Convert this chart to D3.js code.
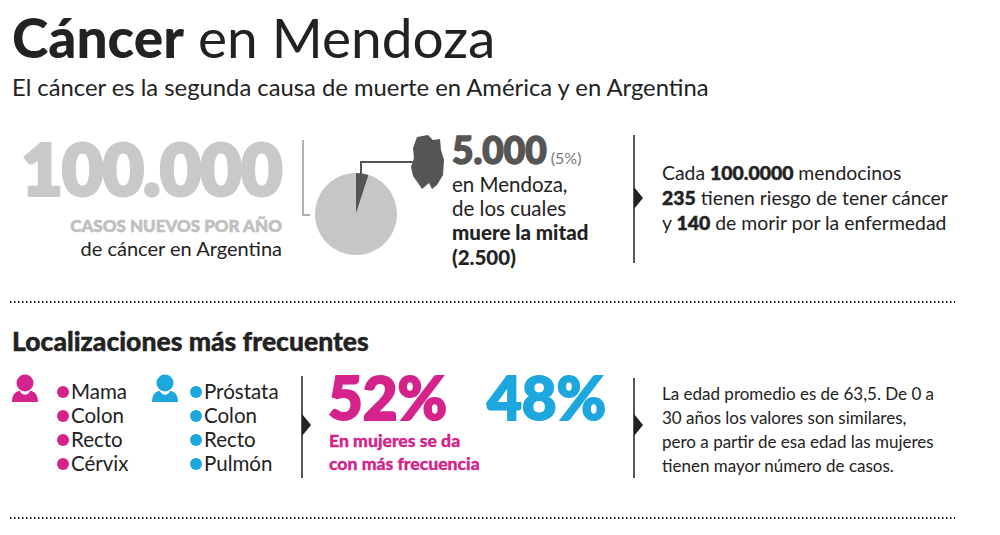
<!DOCTYPE html>
<html><head><meta charset="utf-8">
<script src="https://cdn.jsdelivr.net/npm/d3@7"></script>
<style>body{margin:0;background:#fff}text{font-family:Lato,"Open Sans",sans-serif}</style>
</head><body>
<svg id="c" width="1000" height="535"></svg>
<script>
// data
var pieShares = [5, 95];           // % Mendoza vs resto del país
var mujeres = ["Mama", "Colon", "Recto", "Cérvix"];
var hombres = ["Próstata", "Colon", "Recto", "Pulmón"];
var porcentajes = [52, 48];

var magenta = "#d4238a", cyan = "#1ea7df", ink = "#222";
var svg = d3.select("#c");

function txt(x, y, parts, size, anchor) {
  var t = svg.append("text").attr("x", x).attr("y", y).attr("font-size", size)
    .attr("fill", ink).attr("text-anchor", anchor || "start");
  parts.forEach(function(p) {
    if (typeof p === "string") p = {t: p};
    t.append("tspan").text(p.t).attr("font-weight", p.b ? 900 : 400)
      .attr("fill", p.c || ink).attr("font-size", p.s || null)
      .attr("stroke", p.b && p.h ? (p.c || ink) : null).attr("stroke-width", p.h || null);
  });
  return t;
}

// header
txt(12, 58, [{t: "Cáncer", b: 1}, " en Mendoza"], 55);
txt(12, 96, ["El cáncer es la segunda causa de muerte en América y en Argentina"], 23.8);

// block 1
txt(282, 195, [{t: "100.000", b: 1, c: "#c9c9c9", h: 4}], 70, "end");
txt(282, 232, [{t: "CASOS NUEVOS POR AÑO", b: 1, c: "#c0c0c0", h: 0.6}], 17, "end");
txt(282, 256, ["de cáncer en Argentina"], 20, "end");

svg.append("path").attr("d", "M303,140V215H310").attr("fill", "none").attr("stroke", "#999").attr("stroke-width", 1.5);

var pie = d3.pie().sort(null)(pieShares);
var arc = d3.arc().innerRadius(0).outerRadius(41);
svg.append("g").attr("transform", "translate(356,214)").selectAll("path").data(pie).enter()
  .append("path").attr("d", arc).attr("fill", function(d, i) { return i ? "#c6c6c6" : "#555"; });

svg.append("path").attr("d", "M361,174V162H414").attr("fill", "none").attr("stroke", "#555").attr("stroke-width", 2);
// Mendoza outline (rough)
svg.append("path").attr("fill", "#555")
  .attr("d", "M417,137L428,135L433,140L440,139L441,150L444,160L443,175L437,185L432,189L429,183L422,189L418,183L413,176L411,167L414,158L413,148Z");

txt(452, 164, [{t: "5.000", b: 1, c: "#555", s: 37, h: 1.5}, {t: "  (5%)", c: "#777", s: 16}], 37);
txt(452, 192, ["en Mendoza,"], 20.5);
txt(452, 216, ["de los cuales"], 20.5);
txt(452, 240, [{t: "muere la mitad", b: 1}], 20.5);
txt(452, 265, [{t: "(2.500)", b: 1}], 20.5);

function divider(x, y1, y2, ay) {
  svg.append("line").attr("x1", x).attr("x2", x).attr("y1", y1).attr("y2", y2).attr("stroke", ink).attr("stroke-width", 1.5);
  svg.append("path").attr("d", "M" + x + "," + (ay - 11) + "L" + (x + 9) + "," + ay + "L" + x + "," + (ay + 11) + "Z").attr("fill", ink);
}
divider(634, 135, 263, 198);
txt(662, 180, ["Cada ", {t: "100.0000", b: 1, h: 0.5}, " mendocinos"], 19.4);
txt(662, 205, [{t: "235", b: 1, h: 0.5}, " tienen riesgo de tener cáncer"], 19.4);
txt(662, 230, ["y ", {t: "140", b: 1, h: 0.5}, " de morir por la enfermedad"], 19.4);

function dots(y) {
  svg.append("line").attr("x1", 10).attr("x2", 955).attr("y1", y).attr("y2", y)
    .attr("stroke", ink).attr("stroke-width", 2).attr("stroke-dasharray", "1.5,2.5");
}
dots(302); dots(518);

txt(12, 351, [{t: "Localizaciones más frecuentes", b: 1, h: 0.4}], 26.5);

function person(x, y, c) {
  var g = svg.append("g").attr("transform", "translate(" + x + "," + y + ")").attr("fill", c);
  g.append("circle").attr("cx", 13).attr("cy", 8).attr("r", 8.5);
  g.append("path").attr("d", "M0,27C0,18 5,16 8,16C10,21 16,21 18,16C21,16 26,18 26,27Z");
}
person(12, 375, magenta);
person(152, 375, cyan);

var y = d3.scaleBand().domain(d3.range(4)).range([380, 476]);
function list(x, items, c) {
  items.forEach(function(d, i) {
    var cy = y(i) + y.bandwidth() / 2;
    svg.append("circle").attr("cx", x).attr("cy", cy).attr("r", 6).attr("fill", c);
    txt(x + 8, cy + 7, [d], 20.5);
  });
}
list(63, mujeres, magenta);
list(196, hombres, cyan);

divider(302, 376, 478, 425);
txt(328, 420, [{t: porcentajes[0] + "%", b: 1, c: magenta, h: 2}], 60);
txt(487, 420, [{t: porcentajes[1] + "%", b: 1, c: cyan, h: 2}], 60);
txt(329, 447, [{t: "En mujeres se da", b: 1, c: magenta, h: 0.3}], 17.6);
txt(329, 470, [{t: "con más frecuencia", b: 1, c: magenta, h: 0.3}], 17.6);

divider(634, 378, 478, 425);
["La edad promedio es de 63,5. De 0 a", "30 años los valores son similares,",
 "pero a partir de esa edad las mujeres", "tienen mayor número de casos."].forEach(function(s, i) {
  txt(662, 400 + i * 24, [s], 17);
});
</script>
</body></html>
